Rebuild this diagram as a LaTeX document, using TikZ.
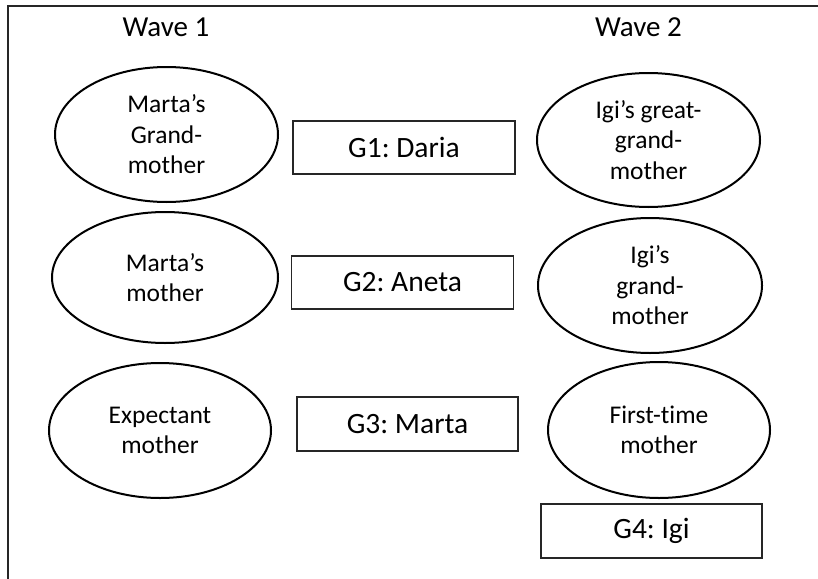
\documentclass[tikz,border=0pt]{standalone}
\usepackage{fontspec}
\setmainfont[Ligatures={NoCommon}]{Carlito}
\frenchspacing
\usetikzlibrary{shapes.geometric}
\tikzset{
  gen/.style={ellipse, draw=black, line width=2pt, inner sep=0pt, align=center,
    font=\fontsize{25.5}{30.5}\selectfont},
  genbox/.style={rectangle, draw=black!85, line width=1.3pt, inner sep=0pt,
    minimum width=222pt, minimum height=53pt, font=\fontsize{29.5}{35}\selectfont},
  wave/.style={font=\fontsize{29}{35}\selectfont, inner sep=0pt}
}
\begin{document}
\begin{tikzpicture}[x=1pt,y=-1pt]
\useasboundingbox (0,0) rectangle (818,578);
\clip (0,0) rectangle (818,578);
\fill[white] (0,0) rectangle (818,578);
\draw[line width=1.3pt, draw=black!85] (8,6) rectangle (840,600);
\node[wave] (w1) at (166,27) {Wave 1};
\node[wave] (w2) at (638.5,27) {Wave 2};
\node[gen, minimum width=223pt, minimum height=135pt] (l1) at (166.5,134.5) {Marta’s\\Grand-\\mother};
\node[gen, minimum width=226pt, minimum height=131pt] (l2) at (165,277.5) {Marta’s\\mother};
\node[gen, minimum width=222pt, minimum height=135pt] (l3) at (160,430.5) {Expectant\\mother};
\node[gen, minimum width=223pt, minimum height=134pt] (r1) at (648.5,140) {Igi’s great-\\grand-\\mother};
\node[gen, minimum width=224pt, minimum height=135pt] (r2) at (650,285.5) {Igi’s\\grand-\\mother};
\node[gen, minimum width=222pt, minimum height=136pt] (r3) at (659,430) {First-time\\mother};
\node[genbox] (g1) at (404,147.5) {G1: Daria};
\node[genbox] (g2) at (402.5,282.5) {G2: Aneta};
\node[genbox, minimum width=221pt, minimum height=54pt] (g3) at (407.5,424) {G3: Marta};
\node[genbox, minimum width=221pt, minimum height=54pt] (g4) at (651.5,531) {G4: Igi};
\end{tikzpicture}
\end{document}
